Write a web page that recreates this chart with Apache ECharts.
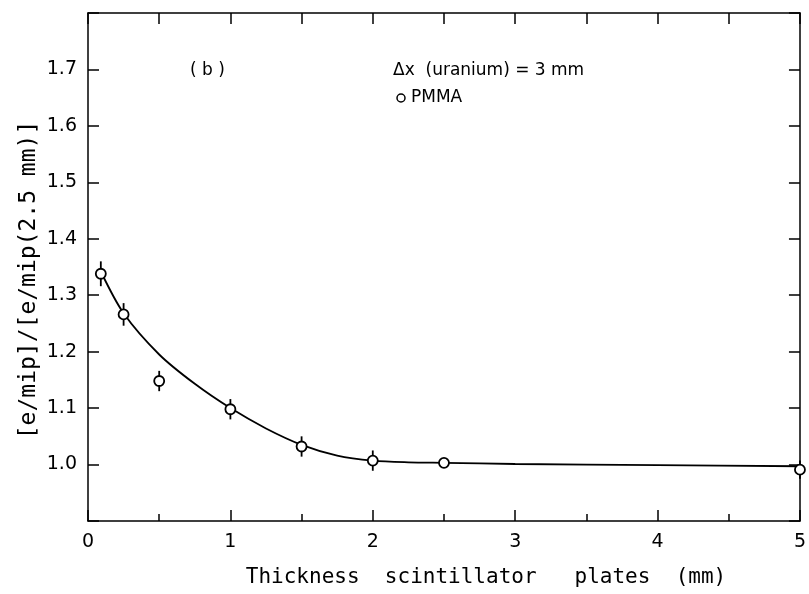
<!DOCTYPE html>
<html>
<head>
<meta charset="utf-8">
<script src="https://cdn.jsdelivr.net/npm/echarts@6/dist/echarts.min.js"></script>
<style>html,body{margin:0;padding:0;background:#fff;}#c{width:809px;height:594px;}</style>
</head>
<body>
<div id="c"></div>
<script>
// Data
const pointX = [0.09, 0.25, 0.5, 1.0, 1.5, 2.0, 2.5, 5.0];
const pointY = [1.338, 1.266, 1.148, 1.098, 1.032, 1.007, 1.003, 0.991];
const pointErr = [0.022, 0.020, 0.018, 0.018, 0.018, 0.018, 0.006, 0.016];
const curveX = [0.09, 0.25, 0.5, 0.75, 1.0, 1.25, 1.5, 1.75, 2.0, 2.25, 2.5, 3.0, 4.0, 5.0];
const curveY = [1.342, 1.268, 1.195, 1.143, 1.100, 1.064, 1.035, 1.016, 1.007, 1.004, 1.003, 1.001, 0.999, 0.997];
const xTickLabels = ['0', '1', '2', '3', '4', '5'];
const yTickLabels = ['1.0', '1.1', '1.2', '1.3', '1.4', '1.5', '1.6', '1.7'];
const xTitle = 'Thickness  scintillator   plates  (mm)';
const yTitle = '[e/mip]/[e/mip(2.5 mm)]';

const FONT = 'DejaVu Sans';
const MONO = 'DejaVu Sans Mono';
const chart = echarts.init(document.getElementById('c'), null, {renderer: 'canvas'});

const points = pointX.map((x, i) => [x, pointY[i]]);
const bars = pointX.map((x, i) => [x, pointY[i] - pointErr[i], pointY[i] + pointErr[i]]);
const curve = curveX.map((x, i) => [x, curveY[i]]);

const axisLine = {show: true, onZero: false, lineStyle: {color: '#000', width: 1.5}};
const tickStyle = {show: true, inside: true, length: 11, lineStyle: {color: '#000', width: 1.5}};

chart.setOption({
  animation: false,
  backgroundColor: '#fff',
  grid: {left: 88, right: 9, top: 13, bottom: 73, containLabel: false},
  xAxis: [{
    type: 'value', min: 0, max: 5, interval: 1, position: 'bottom',
    axisLine: axisLine, axisTick: tickStyle, splitLine: {show: false},
    minorTick: {show: true, splitNumber: 2, length: 7, lineStyle: {color: '#000', width: 1.5}},
    minorSplitLine: {show: false},
    axisLabel: {
      color: '#000', fontFamily: FONT, fontSize: 19, margin: 12,
      formatter: v => xTickLabels[Math.round(v)]
    }
  }, {
    type: 'value', min: 0, max: 5, interval: 0.5, position: 'top',
    axisLine: axisLine, axisTick: tickStyle, axisLabel: {show: false}, splitLine: {show: false}
  }],
  yAxis: [{
    type: 'value', min: 0.9, max: 1.8, interval: 0.1, position: 'left',
    axisLine: axisLine, axisTick: tickStyle, splitLine: {show: false},
    axisLabel: {
      color: '#000', fontFamily: FONT, fontSize: 19, margin: 11,
      formatter: v => {
        const k = Math.round((v - 1.0) * 10);
        return (k >= 0 && k < yTickLabels.length && Math.abs(v - 1.0 - k / 10) < 1e-6) ? yTickLabels[k] : '';
      }
    }
  }, {
    type: 'value', min: 0.9, max: 1.8, interval: 0.1, position: 'right',
    axisLine: axisLine, axisTick: tickStyle, axisLabel: {show: false}, splitLine: {show: false}
  }],
  series: [{
    type: 'line', data: curve, smooth: 0.3, symbol: 'none',
    lineStyle: {color: '#000', width: 1.8}, z: 2
  }, {
    type: 'custom', data: bars, z: 3,
    renderItem: (params, api) => {
      const p1 = api.coord([api.value(0), api.value(1)]);
      const p2 = api.coord([api.value(0), api.value(2)]);
      return {type: 'line', shape: {x1: p1[0], y1: p1[1], x2: p2[0], y2: p2[1]},
        style: {stroke: '#000', lineWidth: 1.8}};
    }
  }, {
    type: 'scatter', data: points, symbol: 'circle', symbolSize: 10, z: 4,
    itemStyle: {color: '#fff', borderColor: '#000', borderWidth: 1.8, opacity: 1}
  }],
  graphic: [
    {type: 'text', x: 190, y: 71, style: {text: '( b )', fontFamily: FONT, fontSize: 17, fill: '#000', verticalAlign: 'middle'}},
    {type: 'text', x: 393, y: 71, style: {text: 'Δx  (uranium) = 3 mm', fontFamily: FONT, fontSize: 17, fill: '#000', verticalAlign: 'middle'}},
    {type: 'circle', shape: {cx: 401, cy: 98, r: 4}, style: {fill: '#fff', stroke: '#000', lineWidth: 1.5}},
    {type: 'text', x: 411, y: 98, style: {text: 'PMMA', fontFamily: FONT, fontSize: 17, fill: '#000', verticalAlign: 'middle'}},
    {type: 'text', x: 486, y: 578, style: {text: xTitle, fontFamily: MONO, fontSize: 21, fill: '#000', align: 'center', verticalAlign: 'middle'}},
    {type: 'text', x: 29, y: 280, rotation: Math.PI / 2, style: {text: yTitle, fontFamily: MONO, fontSize: 23, fill: '#000', align: 'center', verticalAlign: 'middle'}}
  ]
});
</script>
</body>
</html>
